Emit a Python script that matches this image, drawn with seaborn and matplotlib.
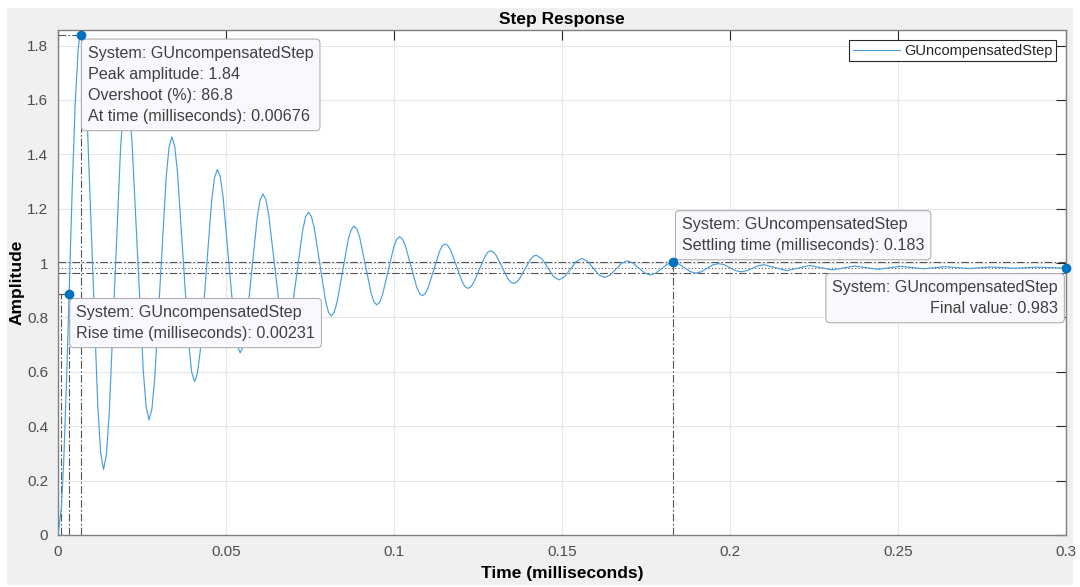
import pandas as pd
import seaborn as sns
import matplotlib.pyplot as plt
from matplotlib.patches import Rectangle

# step response of GUncompensatedStep (time in ms)
t_ms = [
    0.0, 0.00099, 0.0017, 0.0025, 0.0033, 0.0042, 0.0051, 0.0060, 0.0064, 0.00676,
    0.00761, 0.00845, 0.01015, 0.01184, 0.01269, 0.01354,
    0.01439, 0.01523, 0.01693, 0.01862, 0.01947, 0.02032,
    0.02117, 0.02201, 0.02371, 0.02540, 0.02625, 0.02710,
    0.02795, 0.02879, 0.03049, 0.03218, 0.03303, 0.03388,
    0.03473, 0.03557, 0.03727, 0.03896, 0.03980, 0.04065,
    0.04150, 0.04234, 0.04404, 0.04573, 0.04658, 0.04743,
    0.04828, 0.04912, 0.05082, 0.05251, 0.05336, 0.05421,
    0.05506, 0.05590, 0.05760, 0.05929, 0.06014, 0.06099,
    0.06184, 0.06268, 0.06438, 0.06607, 0.06692, 0.06777,
    0.06862, 0.06946, 0.07116, 0.07285, 0.07370, 0.07455,
    0.07539, 0.07624, 0.07794, 0.07963, 0.08048, 0.08133,
    0.08217, 0.08302, 0.08472, 0.08641, 0.08726, 0.08811,
    0.08895, 0.08980, 0.09150, 0.09319, 0.09403, 0.09488,
    0.09572, 0.09657, 0.09827, 0.09996, 0.10081, 0.10166,
    0.10250, 0.10335, 0.10505, 0.10674, 0.10759, 0.10844,
    0.10928, 0.11013, 0.11183, 0.11352, 0.11437, 0.11522,
    0.11606, 0.11691, 0.11861, 0.12030, 0.12115, 0.12200,
    0.12284, 0.12369, 0.12539, 0.12708, 0.12793, 0.12878,
    0.12962, 0.13047, 0.13217, 0.13386, 0.13471, 0.13556,
    0.13640, 0.13725, 0.13895, 0.14064, 0.14148, 0.14233,
    0.14402, 0.14572, 0.14741, 0.14911, 0.15080, 0.15250, 0.15419, 0.15589,
    0.15758, 0.15928, 0.16097, 0.16267, 0.16436, 0.16606, 0.16775, 0.16945,
    0.17114, 0.17284, 0.17453, 0.17623, 0.17792, 0.17962, 0.18131, 0.18300,
    0.18469, 0.18639, 0.18808, 0.18978, 0.19147, 0.19317, 0.19486, 0.19656,
    0.19825, 0.19995, 0.20164, 0.20334, 0.20503, 0.20673, 0.20842, 0.21012,
    0.21351, 0.21690, 0.22029, 0.22368, 0.22707, 0.23045, 0.23384, 0.23723,
    0.24062, 0.24401, 0.24740, 0.25079, 0.25418, 0.25757, 0.26096, 0.26435,
    0.26774, 0.27113, 0.27452, 0.27790, 0.28129, 0.28468, 0.28807, 0.29146,
    0.29485, 0.29824, 0.3,
]
amp = [
    0.0, 0.098, 0.27, 0.55, 0.885, 1.26, 1.58, 1.785, 1.827, 1.840,
    1.779, 1.606, 1.041, 0.475, 0.302, 0.241,
    0.294, 0.444, 0.933, 1.422, 1.572, 1.625,
    1.579, 1.449, 1.024, 0.599, 0.469, 0.423,
    0.463, 0.576, 0.944, 1.312, 1.424, 1.464,
    1.430, 1.332, 1.014, 0.696, 0.598, 0.564,
    0.594, 0.678, 0.954, 1.230, 1.314, 1.344,
    1.318, 1.245, 1.007, 0.769, 0.696, 0.670,
    0.692, 0.756, 0.962, 1.168, 1.232, 1.254,
    1.235, 1.180, 1.001, 0.822, 0.767, 0.748,
    0.765, 0.813, 0.968, 1.123, 1.170, 1.187,
    1.172, 1.131, 0.996, 0.861, 0.820, 0.805,
    0.818, 0.854, 0.971, 1.088, 1.123, 1.136,
    1.125, 1.094, 0.991, 0.889, 0.857, 0.846,
    0.856, 0.883, 0.972, 1.060, 1.087, 1.097,
    1.089, 1.065, 0.989, 0.912, 0.888, 0.880,
    0.887, 0.908, 0.975, 1.042, 1.063, 1.070,
    1.064, 1.046, 0.989, 0.931, 0.913, 0.907,
    0.912, 0.928, 0.976, 1.024, 1.040, 1.045,
    1.040, 1.027, 0.985, 0.943, 0.930, 0.925,
    0.929, 0.940, 0.977, 1.014, 1.025, 1.029,
    1.016, 0.984, 0.951, 0.938, 0.950, 0.978, 1.005, 1.017,
    1.007, 0.982, 0.957, 0.947, 0.956, 0.978, 0.999, 1.008,
    1.000, 0.982, 0.964, 0.956, 0.963, 0.979, 0.996, 1.0027,
    0.997, 0.983, 0.969, 0.963, 0.968, 0.981, 0.993, 0.998,
    0.994, 0.983, 0.972, 0.968, 0.972, 0.981, 0.990, 0.994,
    0.983, 0.972, 0.9815, 0.991, 0.983, 0.975, 0.982, 0.989,
    0.983, 0.977, 0.9825, 0.988, 0.9835, 0.979, 0.983, 0.9865,
    0.983, 0.980, 0.983, 0.9856, 0.983, 0.981, 0.983, 0.985,
    0.9835, 0.982, 0.983,
]

# step info shown in the data tips
system_name = 'GUncompensatedStep'
peak_time, peak_amp, overshoot = 0.00676, 1.84, 86.8
rise_time, t10, t90, rise_level = 0.00231, 0.00099, 0.0033, 0.885
settle_time, settle_hi, settle_lo = 0.183, 1.0027, 0.963
final_time, final_value = 0.3, 0.983

x_ticks = [0, 0.05, 0.1, 0.15, 0.2, 0.25, 0.3]
y_ticks = [0, 0.2, 0.4, 0.6, 0.8, 1.0, 1.2, 1.4, 1.6, 1.8]

sns.set_theme(style='white')
plt.rcParams['font.family'] = ['Liberation Sans', 'DejaVu Sans']

W, H = 1080, 587
fig = plt.figure(figsize=(W / 100, H / 100), dpi=100, facecolor='white')
fig.patches.append(Rectangle((7 / W, 2 / H), 1066 / W, 577 / H, transform=fig.transFigure,
                             fc='#f0f0f0', ec='none', zorder=-10))
ax = fig.add_axes([58 / W, 52 / H, 1008 / W, 505 / H])
ax.set_facecolor('white')

df = pd.DataFrame({'Time': t_ms, 'Amplitude': amp})
sns.lineplot(data=df, x='Time', y='Amplitude', ax=ax, color='#4a9fdc', lw=0.85,
             estimator=None, sort=False, label=system_name, zorder=3)

# characteristic lines (dash-dot) like MATLAB's step plot
ref = dict(color='#555555', lw=0.8, ls=(0, (7, 2, 1.5, 2)), zorder=2)
ax.plot([0, peak_time], [peak_amp, peak_amp], **ref)
ax.plot([peak_time, peak_time], [0, peak_amp], **ref)
ax.plot([0, t90], [rise_level, rise_level], **ref)
ax.plot([t10, t10], [0, rise_level], **ref)
ax.plot([t90, t90], [0, rise_level], **ref)
ax.axhline(settle_hi, **ref)
ax.axhline(settle_lo, **ref)
ax.axhline(final_value, color='#555555', lw=0.8, ls=(0, (1, 2)), zorder=2)
ax.plot([settle_time, settle_time], [0, settle_hi], **ref)

ax.plot([peak_time, t90, settle_time, final_time],
         [peak_amp, rise_level, settle_hi, final_value],
         'o', color='#0072BD', ms=6, clip_on=False, zorder=7)

tip_box = dict(boxstyle='round,pad=0.4,rounding_size=0.25', fc='#f9f9fd', ec='#b0b0b0', lw=0.8)
tip_kw = dict(fontsize=11.6, color='#404040', linespacing=1.52, bbox=tip_box, zorder=6)
ax.text(0.0089, 1.80,
        f'System: {system_name}\nPeak amplitude: {peak_amp}\nOvershoot (%): {overshoot}\n'
        f'At time (milliseconds): {peak_time}', va='top', ha='left', **tip_kw)
ax.text(0.0054, 0.846,
        f'System: {system_name}\nRise time (milliseconds): {rise_time}',
        va='top', ha='left', **tip_kw)
ax.text(0.1857, 1.169,
        f'System: {system_name}\nSettling time (milliseconds): {settle_time}',
        va='top', ha='left', **tip_kw)
ax.text(0.2976, 0.9375,
        f'System: {system_name}\nFinal value: {final_value}',
        va='top', ha='right', multialignment='right', **tip_kw)

ax.set_xlim(0, 0.3)
ax.set_ylim(0, 1.857)
ax.set_xticks(x_ticks)
ax.set_xticklabels([f'{v:g}' for v in x_ticks])
ax.set_yticks(y_ticks)
ax.set_yticklabels([f'{v:g}' for v in y_ticks])
ax.tick_params(direction='in', length=7, width=0.8, color='#262626', labelcolor='#4d4d4d',
               labelsize=11, top=True, right=True, pad=7)
ax.grid(True, color='#e6e6e6', lw=0.8)
ax.set_axisbelow(True)
for s in ax.spines.values():
    s.set_color('#808080')
    s.set_linewidth(1)

ax.set_title('Step Response', fontsize=12.5, fontweight='bold', color='black', pad=4)
ax.set_xlabel('Time (milliseconds)', fontsize=12.5, fontweight='bold', color='black', labelpad=5)
ax.set_ylabel('Amplitude', fontsize=12.5, fontweight='bold', color='black', labelpad=2)

leg = ax.legend(loc='upper right', bbox_to_anchor=(0.990, 0.980), frameon=True, fancybox=False,
                edgecolor='#262626', framealpha=1, fontsize=10.5, handlelength=3.2,
                borderpad=0.25, borderaxespad=0, handletextpad=0.3)
leg.get_frame().set_linewidth(0.8)

fig.savefig('out.png', dpi=100, facecolor=fig.get_facecolor())
